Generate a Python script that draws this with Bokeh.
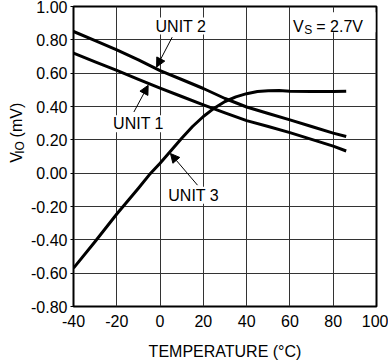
import math
from bokeh.plotting import figure
from bokeh.layouts import row
from bokeh.models import (FixedTicker, NumeralTickFormatter, Label, Arrow,
                          NormalHead, BoxAnnotation, Range1d)
from bokeh.embed import file_html
from bokeh.resources import INLINE

# ---- data ----
temp_12 = [-40, -30, -20, -10, 0, 10, 20, 30, 40, 50, 60, 70, 80, 86]
unit1 = [0.72, 0.668, 0.617, 0.563, 0.51, 0.46, 0.41, 0.362, 0.315, 0.28, 0.243, 0.203, 0.162, 0.133]
unit2 = [0.85, 0.795, 0.74, 0.68, 0.615, 0.562, 0.508, 0.448, 0.397, 0.358, 0.32, 0.28, 0.24, 0.22]
temp_3 = [-40, -30, -20, -10, -5, 0, 5, 10, 15, 20, 25, 30, 35, 40, 45, 50, 55, 60, 70, 80, 86]
unit3 = [-0.57, -0.41, -0.245, -0.09, -0.01, 0.06, 0.135, 0.21, 0.28, 0.34, 0.39, 0.43, 0.458,
         0.477, 0.49, 0.495, 0.496, 0.492, 0.49, 0.49, 0.492]
x_ticks = [-40, -20, 0, 20, 40, 60, 80, 100]
y_ticks = [-0.8, -0.6, -0.4, -0.2, 0.0, 0.2, 0.4, 0.6, 0.8, 1.0]
x_title = "TEMPERATURE (°C)"
unit_names = ["UNIT 1", "UNIT 2", "UNIT 3"]

FONT = "Liberation Sans"
FS = "16px"
W, H = 388, 362
TW = 26  # width of the strip holding the rotated y title

p = figure(width=W - TW, height=H, output_backend="svg", toolbar_location=None,
           x_range=Range1d(-40, 100), y_range=Range1d(-0.8, 1.0),
           min_border_left=73 - TW, min_border_right=12, min_border_top=6, min_border_bottom=50)
p.background_fill_color = "white"
p.border_fill_color = "white"
p.outline_line_color = "black"
p.outline_line_width = 2

p.xaxis.ticker = FixedTicker(ticks=x_ticks)
p.yaxis.ticker = FixedTicker(ticks=y_ticks)
p.xaxis.formatter = NumeralTickFormatter(format="0")
p.yaxis.formatter = NumeralTickFormatter(format="0.00")
for ax in (p.xaxis, p.yaxis):
    ax.axis_line_color = None
    ax.minor_tick_line_color = None
    ax.major_tick_in = 0
    ax.major_label_text_font = FONT
    ax.major_label_text_font_size = FS
    ax.major_label_text_color = "black"
    ax.major_tick_line_color = "black"
p.xaxis.major_tick_out = 0
p.xaxis.major_label_standoff = 8
p.yaxis.major_tick_out = 3
p.yaxis.major_label_standoff = 3
p.xaxis.axis_label = x_title
p.xaxis.axis_label_text_font = FONT
p.xaxis.axis_label_text_font_size = FS
p.xaxis.axis_label_text_font_style = "normal"
p.xaxis.axis_label_text_color = "black"
p.xaxis.axis_label_standoff = 13

for g in (p.xgrid, p.ygrid):
    g.grid_line_color = "#333333"
    g.grid_line_width = 1
p.xgrid.ticker = FixedTicker(ticks=x_ticks)
p.ygrid.ticker = FixedTicker(ticks=y_ticks)

p.line(temp_12, unit1, line_color="black", line_width=3, line_join="round")
p.line(temp_12, unit2, line_color="black", line_width=3, line_join="round")
p.line(temp_3, unit3, line_color="black", line_width=3, line_join="round")

# ---- annotations ----
def lab(fig, text, x, y, **kw):
    d = dict(text_font=FONT, text_font_size=FS, text_color="black",
             text_align="left", text_baseline="middle")
    d.update(kw)
    fig.add_layout(Label(x=x, y=y, text=text, **d))

def arrow(x0, y0, x1, y1):
    p.add_layout(Arrow(end=NormalHead(size=9, fill_color="black", line_color="black", line_width=1),
                       x_start=x0, y_start=y0, x_end=x1, y_end=y1,
                       line_color="black", line_width=1))

lab(p, unit_names[1], -2.1, 0.883, background_fill_color="white")
lab(p, unit_names[0], -21.7, 0.297, background_fill_color="white")
lab(p, unit_names[2], 3.8, -0.132, background_fill_color="white")
arrow(5.6, 0.816, -1.6, 0.637)
arrow(-12.1, 0.367, -5.5, 0.527)
arrow(17.3, -0.072, 4.8, 0.118)

# supply voltage note
p.add_layout(BoxAnnotation(left=62, right=99.5, bottom=0.845, top=0.965,
                           fill_color="white", fill_alpha=1.0, line_color=None))
lab(p, "V", 61.4, 0.88, text_baseline="alphabetic")
lab(p, "S", 61.4, 0.88, x_offset=11.2, y_offset=-3, text_font_size="12px", text_baseline="alphabetic")
lab(p, "= 2.7V", 61.4, 0.88, x_offset=23.3, text_baseline="alphabetic")

# ---- narrow strip with the rotated y-axis title  V_IO (mV) ----
t = figure(width=TW, height=H, output_backend="svg", toolbar_location=None,
           x_range=Range1d(0, TW), y_range=Range1d(0, H),
           x_axis_type=None, y_axis_type=None,
           min_border_left=0, min_border_right=0, min_border_top=0, min_border_bottom=0)
t.outline_line_color = None
t.background_fill_color = "white"
t.border_fill_color = "white"
t.xgrid.visible = False
t.ygrid.visible = False
rot = dict(angle=math.pi / 2, text_baseline="alphabetic", text_align="left")
lab(t, "V", 16, 173.5, **rot)
lab(t, "IO", 19, 184.2, **dict(rot, text_font_size="12px"))
lab(t, "(mV)", 16, 204, **rot)

layout = row(t, p)
open("out.html", "w").write(file_html(layout, INLINE))
